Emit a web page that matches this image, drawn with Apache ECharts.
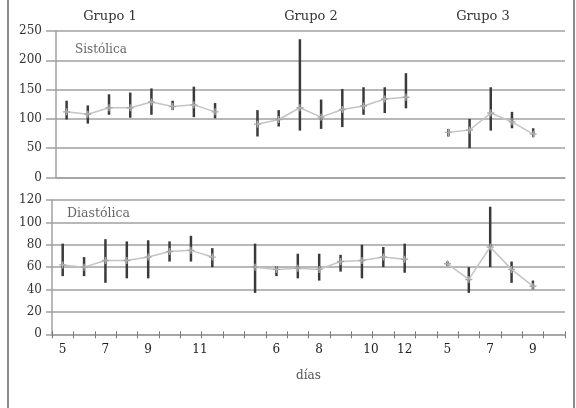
<!DOCTYPE html>
<html>
<head>
<meta charset="utf-8">
<script src="https://cdn.jsdelivr.net/npm/echarts@6/dist/echarts.min.js"></script>
<style>html,body{margin:0;padding:0;background:#fff}#c{width:576px;height:408px}</style>
</head>
<body>
<div id="c"></div>
<script>
// Tick labels of the shared day axis (24 slots, empty slots separate the groups)
const xTickLabels = ['5','','7','','9','','11','','', '','6','','8','','10','','12','', '5','','7','','9',''];
const groupNames = ['Grupo 1','Grupo 2','Grupo 3'];

// Sistólica
const sysMean = [112,108,119,119,129,121,124,112,null, 91,99,119,103,116,122,134,137,null, 77,81,110,95,74,null];
const sysLow  = [99,92,107,102,107,115,103,101,null, 70,87,80,83,86,107,110,118,null, 70,50,80,84,69,null];
const sysHigh = [131,123,142,145,152,131,155,127,null, 115,115,236,133,151,154,154,178,null, 83,100,154,112,84,null];

// Diastólica
const diaMean = [62,60,66,66,69,74,75,69,null, 60,58,59,58,65,66,69,67,null, 63,49,78,58,43,null];
const diaLow  = [52,52,46,50,50,65,65,60,null, 37,52,50,48,56,50,60,55,null, 61,37,60,46,40,null];
const diaHigh = [81,69,85,83,84,83,88,77,null, 81,61,72,72,71,80,78,81,null, 65,60,114,65,48,null];

const FONT = 'DejaVu Serif';
const GRID_C = '#a0a0a0';

function errData(lo, hi) {
  const out = [];
  lo.forEach((v, i) => { if (v != null) out.push([i, v, hi[i]]); });
  return out;
}
function meanData(m) { return m.map(v => v == null ? '-' : v); }

function errRender(params, api) {
  const p1 = api.coord([api.value(0), api.value(1)]);
  const p2 = api.coord([api.value(0), api.value(2)]);
  return { type: 'line', shape: { x1: p1[0], y1: p1[1], x2: p2[0], y2: p2[1] },
           style: { stroke: '#3a3a3a', lineWidth: 2.5 } };
}

const plusSym = 'path://M2,0h1v2h2v1h-2v2h-1v-2h-2v-1h2z';

const chart = echarts.init(document.getElementById('c'), null, { renderer: 'canvas' });
chart.setOption({
  animation: false,
  backgroundColor: '#fff',
  grid: [
    { left: 56, right: 11, top: 31, height: 146.5 },
    { left: 52, right: 11, top: 200, height: 134.3 }
  ],
  xAxis: [
    { type: 'category', gridIndex: 0, data: xTickLabels, boundaryGap: true,
      axisLine: { lineStyle: { color: GRID_C, width: 1.5 } }, axisTick: { show: false }, axisLabel: { show: false } },
    { type: 'category', gridIndex: 1, data: xTickLabels, boundaryGap: true,
      axisLine: { lineStyle: { color: GRID_C, width: 1.5 } },
      axisTick: { show: true, length: 4, lineStyle: { color: '#777', width: 1 } },
      axisLabel: { interval: 0, margin: 10, color: '#222', fontFamily: FONT, fontSize: 12,
        formatter: v => (v === '11' || v === '10') ? '{s|' + v + '}' : v,
        rich: { s: { fontFamily: FONT, fontSize: 12, color: '#222', padding: [0, 0, 0, 18] } } },
      name: 'días', nameLocation: 'middle', nameGap: 36,
      nameTextStyle: { fontFamily: FONT, fontSize: 12, color: '#555', padding: [0, 0, 0, 0] } },
    { type: 'category', gridIndex: 1, data: xTickLabels, boundaryGap: true, position: 'bottom',
      axisLine: { show: false }, axisLabel: { show: false },
      axisTick: { show: true, inside: true, length: 3, lineStyle: { color: '#777', width: 1 } } }
  ],
  yAxis: [
    { type: 'value', gridIndex: 0, min: 0, max: 250, interval: 50,
      axisLine: { show: true, lineStyle: { color: GRID_C, width: 1.5 } },
      axisTick: { show: true, length: 10, lineStyle: { color: GRID_C, width: 1.5 } },
      splitLine: { lineStyle: { color: GRID_C, width: 1.5 } },
      axisLabel: { margin: 14, color: '#333', fontFamily: FONT, fontSize: 12 } },
    { type: 'value', gridIndex: 1, min: 0, max: 120, interval: 20,
      axisLine: { show: true, lineStyle: { color: GRID_C, width: 1.5 } },
      axisTick: { show: true, length: 6, lineStyle: { color: GRID_C, width: 1.5 } },
      splitLine: { lineStyle: { color: GRID_C, width: 1.5 } },
      axisLabel: { margin: 10, color: '#333', fontFamily: FONT, fontSize: 12 } }
  ],
  series: [
    { type: 'custom', xAxisIndex: 0, yAxisIndex: 0, renderItem: errRender,
      data: errData(sysLow, sysHigh), encode: { x: 0, y: [1, 2] }, z: 2 },
    { type: 'line', xAxisIndex: 0, yAxisIndex: 0, data: meanData(sysMean), connectNulls: false,
      lineStyle: { color: '#c4c4c4', width: 1.5 }, symbol: plusSym, symbolSize: 7,
      itemStyle: { color: '#a8a8a8' }, z: 3 },
    { type: 'custom', xAxisIndex: 1, yAxisIndex: 1, renderItem: errRender,
      data: errData(diaLow, diaHigh), encode: { x: 0, y: [1, 2] }, z: 2 },
    { type: 'line', xAxisIndex: 1, yAxisIndex: 1, data: meanData(diaMean), connectNulls: false,
      lineStyle: { color: '#c4c4c4', width: 1.5 }, symbol: plusSym, symbolSize: 7,
      itemStyle: { color: '#a8a8a8' }, z: 3 }
  ],
  graphic: [
    { type: 'line', shape: { x1: 8, y1: 0, x2: 8, y2: 408 }, style: { stroke: '#666', lineWidth: 1.5 } },
    { type: 'line', shape: { x1: 574, y1: 0, x2: 574, y2: 408 }, style: { stroke: '#666', lineWidth: 1.5 } },
    { type: 'text', x: 110, y: 17, style: { text: groupNames[0], font: '13px "DejaVu Serif"', fill: '#333', textAlign: 'center', textVerticalAlign: 'middle' } },
    { type: 'text', x: 311, y: 17, style: { text: groupNames[1], font: '13px "DejaVu Serif"', fill: '#333', textAlign: 'center', textVerticalAlign: 'middle' } },
    { type: 'text', x: 483, y: 17, style: { text: groupNames[2], font: '13px "DejaVu Serif"', fill: '#333', textAlign: 'center', textVerticalAlign: 'middle' } },
    { type: 'text', x: 75, y: 50, style: { text: 'Sistólica', font: '12px "DejaVu Serif"', fill: '#666', textAlign: 'left', textVerticalAlign: 'middle' } },
    { type: 'text', x: 67, y: 213.5, style: { text: 'Diastólica', font: '12.5px "DejaVu Serif"', fill: '#666', textAlign: 'left', textVerticalAlign: 'middle' } }
  ]
});
</script>
</body>
</html>
